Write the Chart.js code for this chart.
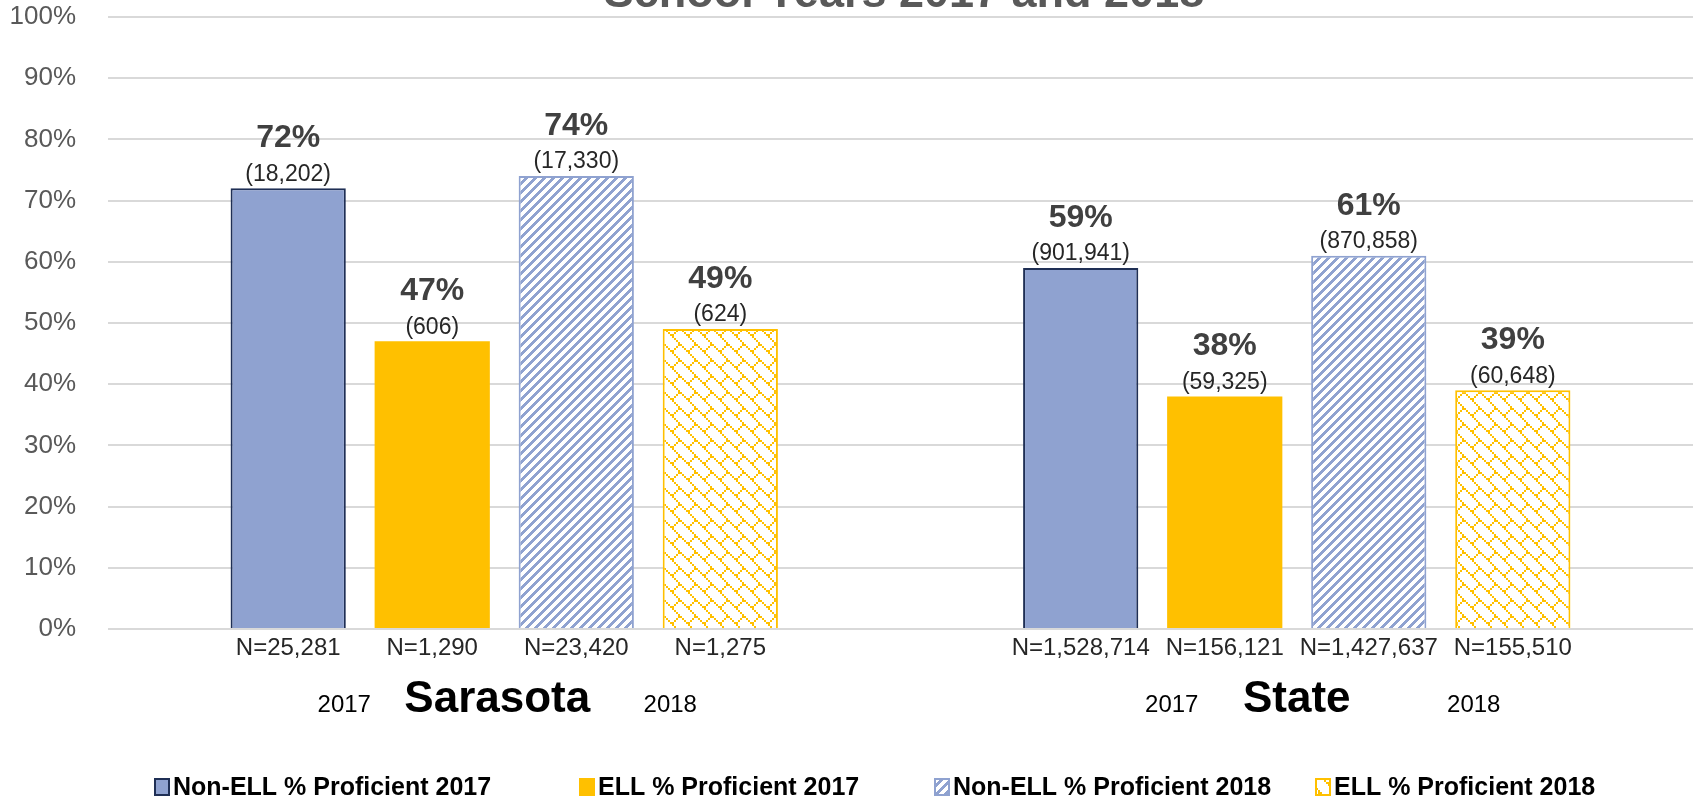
<!DOCTYPE html>
<html>
<head>
<meta charset="utf-8">
<script src="https://cdn.jsdelivr.net/npm/chart.js@4.4.1/dist/chart.umd.min.js"></script>
<style>
  html, body { margin: 0; padding: 0; background: #fff; }
  canvas { display: block; }
</style>
</head>
<body>
<canvas id="chart" width="1698" height="802"></canvas>
<script>
// ---- data ----
const TITLE = "School Years 2017 and 2018";
const CATEGORIES = ["Sarasota", "State"];
const YEARS = ["2017", "2018"];
const SERIES_NAMES = [
    "Non-ELL % Proficient 2017",
    "ELL % Proficient 2017",
    "Non-ELL % Proficient 2018",
    "ELL % Proficient 2018",
];

// percent proficient
const NON_ELL_2017 = [72, 59];
const ELL_2017 = [47, 38];
const NON_ELL_2018 = [74, 61];
const ELL_2018 = [49, 39];

// number proficient (shown in brackets)
const NON_ELL_2017_PROF = [18202, 901941];
const ELL_2017_PROF = [606, 59325];
const NON_ELL_2018_PROF = [17330, 870858];
const ELL_2018_PROF = [624, 60648];

// number tested (N=)
const NON_ELL_2017_N = [25281, 1528714];
const ELL_2017_N = [1290, 156121];
const NON_ELL_2018_N = [23420, 1427637];
const ELL_2018_N = [1275, 155510];

// ---- style ----
const FONT = "'Liberation Sans', Arial, sans-serif";
const BLUE = "#8FA2D0";
const NAVY = "#1F2F55";
const GOLD = "#FFC000";
const GRID = "#D9D9D9";
const YEAR_OFFSETS = [[-160, 166], [-125, 177]];
const LEGEND_X = [154, 579, 934, 1315];

function fmt(n) {
    return Number(n).toLocaleString("en-US");
}

function stripePattern(color) {
    const c = document.createElement("canvas");
    c.width = 9; c.height = 9;
    const g = c.getContext("2d");
    g.fillStyle = "#fff";
    g.fillRect(0, 0, 9, 9);
    g.fillStyle = color;
    for (let y = 0; y < 9; y++) {
        for (let x = 0; x < 9; x++) {
            if ((x + y) % 9 < 4) g.fillRect(x, y, 1, 1);
        }
    }
    return g.createPattern(c, "repeat");
}

function brickPattern(color) {
    // diagonal brick, 8x8 bits drawn at 2x
    const rows = [0x80, 0x40, 0x20, 0x10, 0x18, 0x24, 0x42, 0x81];
    const c = document.createElement("canvas");
    c.width = 16; c.height = 16;
    const g = c.getContext("2d");
    g.fillStyle = "#fff";
    g.fillRect(0, 0, 16, 16);
    g.fillStyle = color;
    rows.forEach((bits, y) => {
        for (let x = 0; x < 8; x++) {
            if (bits & (0x80 >> x)) g.fillRect(x * 2, y * 2, 2, 2);
        }
    });
    return g.createPattern(c, "repeat");
}

const ctx0 = document.getElementById("chart").getContext("2d");
const STRIPES = stripePattern(BLUE);
const BRICKS = brickPattern(GOLD);

const VALUES = [NON_ELL_2017, ELL_2017, NON_ELL_2018, ELL_2018];
const PROF = [NON_ELL_2017_PROF, ELL_2017_PROF, NON_ELL_2018_PROF, ELL_2018_PROF];
const TESTED = [NON_ELL_2017_N, ELL_2017_N, NON_ELL_2018_N, ELL_2018_N];
const FILLS = [BLUE, GOLD, STRIPES, BRICKS];
const BORDERS = [NAVY, GOLD, BLUE, GOLD];
const BORDER_W = [2, 0, 2, 2];

const titlePlugin = {
    id: "cutTitle",
    afterDraw(chart) {
        const ctx = chart.ctx;
        ctx.save();
        ctx.font = `bold 45px ${FONT}`;
        ctx.fillStyle = "#595959";
        ctx.textAlign = "center";
        ctx.textBaseline = "alphabetic";
        ctx.fillText(TITLE, 904, 7);
        ctx.restore();
    },
};

const barLabels = {
    id: "barLabels",
    afterDatasetsDraw(chart) {
        const ctx = chart.ctx;
        const bottom = chart.chartArea.bottom;
        ctx.save();
        ctx.textAlign = "center";
        ctx.textBaseline = "middle";
        chart.data.datasets.forEach((ds, i) => {
            chart.getDatasetMeta(i).data.forEach((bar, j) => {
                ctx.font = `bold 32px ${FONT}`;
                ctx.fillStyle = "#404040";
                ctx.fillText(ds.data[j] + "%", bar.x, bar.y - 50);
                ctx.font = `23px ${FONT}`;
                ctx.fillStyle = "#262626";
                ctx.fillText("(" + fmt(PROF[i][j]) + ")", bar.x, bar.y - 14);
                ctx.font = `24px ${FONT}`;
                ctx.fillText("N=" + fmt(TESTED[i][j]), bar.x, bottom + 19);
            });
        });

        // category names with years either side
        const xs = chart.scales.x;
        ctx.textBaseline = "alphabetic";
        CATEGORIES.forEach((name, j) => {
            const cx = xs.getPixelForValue(j);
            ctx.fillStyle = "#000";
            ctx.font = `bold 44px ${FONT}`;
            ctx.fillText(name, cx - (j === 0 ? 7 : 0), 712);
            ctx.font = `24px ${FONT}`;
            ctx.fillText(YEARS[0], cx + YEAR_OFFSETS[j][0], 712);
            ctx.fillText(YEARS[1], cx + YEAR_OFFSETS[j][1], 712);
        });

        // legend
        ctx.textAlign = "left";
        ctx.textBaseline = "middle";
        ctx.font = `bold 25px ${FONT}`;
        chart.data.datasets.forEach((ds, i) => {
            const x = LEGEND_X[i];
            const y = 787;
            ctx.fillStyle = ds.backgroundColor;
            ctx.fillRect(x, y - 9, 16, 18);
            if (ds.borderWidth) {
                ctx.strokeStyle = ds.borderColor;
                ctx.lineWidth = 2;
                ctx.strokeRect(x + 1, y - 8, 14, 16);
            }
            ctx.fillStyle = "#000";
            ctx.fillText(ds.label, x + 19, y + 1);
        });
        ctx.restore();
    },
};

new Chart(ctx0, {
    type: "bar",
    data: {
        labels: CATEGORIES,
        datasets: SERIES_NAMES.map((name, i) => ({
            label: name,
            data: VALUES[i],
            backgroundColor: FILLS[i],
            borderColor: BORDERS[i],
            borderWidth: BORDER_W[i],
            categoryPercentage: 0.727,
            barPercentage: 0.8,
        })),
    },
    options: {
        responsive: false,
        animation: false,
        devicePixelRatio: 1,
        layout: { padding: { top: 17, right: 5, bottom: 173, left: 0 } },
        plugins: {
            legend: { display: false },
            title: { display: false },
            tooltip: { enabled: false },
        },
        scales: {
            x: { display: false },
            y: {
                min: 0,
                max: 100,
                afterFit(scale) {
                    scale.width = 108;
                    scale.paddingTop = 0;
                    scale.paddingBottom = 0;
                },
                border: { display: false },
                grid: { color: GRID, lineWidth: 2, drawTicks: false },
                ticks: {
                    stepSize: 10,
                    padding: 32,
                    color: "#595959",
                    font: { family: FONT, size: 26 },
                    callback: (v) => v + "%",
                },
            },
        },
    },
    plugins: [titlePlugin, barLabels],
});
</script>
</body>
</html>
